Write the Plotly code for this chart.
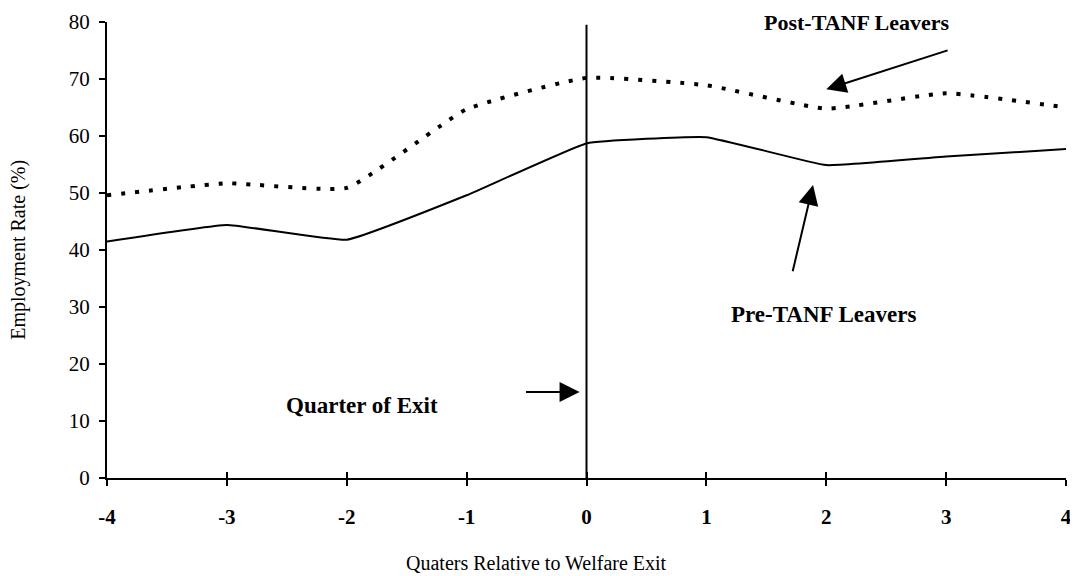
import plotly.graph_objects as go

# quarters relative to welfare exit
quarters = [-4, -3, -2, -1, 0, 1, 2, 3, 4]
# employment rate (%)
pre_tanf = [41.5, 44.4, 41.8, 49.6, 58.7, 59.8, 54.9, 56.4, 57.7]
post_tanf = [49.6, 51.7, 50.9, 64.7, 70.2, 68.9, 64.8, 67.5, 65.0]

y_ticks = [0, 10, 20, 30, 40, 50, 60, 70, 80]

FONT = "Liberation Serif"

fig = go.Figure()

fig.add_trace(go.Scatter(
    x=quarters, y=post_tanf, mode="lines", name="Post-TANF Leavers",
    line=dict(color="black", width=4, dash="4px,10px", shape="spline", smoothing=0.4),
    hoverinfo="skip",
))
fig.add_trace(go.Scatter(
    x=quarters, y=pre_tanf, mode="lines", name="Pre-TANF Leavers",
    line=dict(color="black", width=2, shape="spline", smoothing=0.3),
    hoverinfo="skip",
))
# invisible trace on the overlay axis so its ticks show up
fig.add_trace(go.Scatter(x=[quarters[0], quarters[-1]], y=[0, 0], xaxis="x2",
                         mode="lines", line=dict(width=0), hoverinfo="skip"))

# quarter of exit marker line
fig.add_shape(type="line", x0=0, x1=0, y0=0, y1=79.5, xref="x", yref="y",
              line=dict(color="black", width=2))

# labels + arrows
fig.add_annotation(x=2.26, y=1.0, xref="x", yref="paper", yanchor="middle",
                   text="<b>Post-TANF Leavers</b>", borderpad=0,
                   showarrow=False, font=dict(family=FONT, size=22, color="black"))
fig.add_annotation(x=1.98, y=28.6, text="<b>Pre-TANF Leavers</b>", showarrow=False,
                   font=dict(family=FONT, size=23, color="black"))
fig.add_annotation(x=-1.875, y=12.8, text="<b>Quarter of Exit</b>", showarrow=False,
                   font=dict(family=FONT, size=23, color="black"))

arrows = [
    (2.0, 68.2, 3.025, 75.1),
    (1.89, 51.4, 1.717, 36.0),
    (-0.058, 15.1, -0.517, 15.1),
]
for x, y, ax, ay in arrows:
    fig.add_annotation(x=x, y=y, ax=ax, ay=ay, xref="x", yref="y", axref="x", ayref="y",
                       text="", showarrow=True, arrowhead=2, arrowsize=2,
                       arrowwidth=2, arrowcolor="black")

# axis titles
fig.add_annotation(x=0.448, y=-0.186, xref="paper", yref="paper",
                   xanchor="center", yanchor="middle",
                   text="Quaters Relative to Welfare Exit", showarrow=False,
                   font=dict(family=FONT, size=20, color="black"))
fig.add_annotation(x=-0.093, y=0.5, xref="paper", yref="paper", textangle=-90,
                   xanchor="center", yanchor="middle",
                   text="Employment Rate (%)", showarrow=False,
                   font=dict(family=FONT, size=20, color="black"))

# page body has an 8px default margin, so the figure is shrunk to fit the window
fig.update_layout(
    width=1070, height=568,
    margin=dict(l=99, r=12, t=14, b=98, autoexpand=False),
    paper_bgcolor="white", plot_bgcolor="white",
    showlegend=False,
    xaxis=dict(
        range=[-4, 4], tickmode="array", tickvals=quarters,
        ticktext=[f"<b>{q}</b>" for q in quarters],
        showgrid=False, zeroline=False, automargin=False,
        showline=True, linecolor="black", linewidth=2,
        ticks="outside", ticklen=6, tickwidth=2, tickcolor="black",
        ticklabelstandoff=13,
        tickfont=dict(family=FONT, size=21, color="black"),
    ),
    xaxis2=dict(
        range=[-4, 4], overlaying="x", tickmode="array", tickvals=quarters,
        showticklabels=False, showgrid=False, zeroline=False, showline=False,
        ticks="inside", ticklen=6, tickwidth=2, tickcolor="black", side="bottom",
        automargin=False,
    ),
    yaxis=dict(
        range=[0, 80], tickmode="array", tickvals=y_ticks,
        showgrid=False, zeroline=False, automargin=False,
        showline=True, linecolor="black", linewidth=2,
        ticks="outside", ticklen=6, tickwidth=2, tickcolor="black",
        ticklabelstandoff=5,
        tickfont=dict(family=FONT, size=21, color="black"),
    ),
)

fig.write_html("out.html")
